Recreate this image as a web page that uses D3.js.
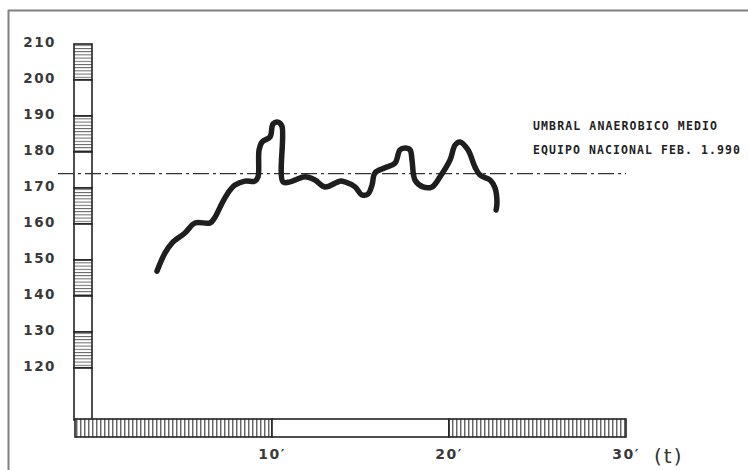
<!DOCTYPE html>
<html>
<head>
<meta charset="utf-8">
<script src="https://cdn.jsdelivr.net/npm/d3@7"></script>
<style>
  html, body { margin: 0; padding: 0; background: #fff; }
  svg { display: block; }
</style>
</head>
<body>
<svg id="chart" width="748" height="470"></svg>
<script>
// ---- data ----
const yTicks = [210, 200, 190, 180, 170, 160, 150, 140, 130, 120];
const xTicks = [10, 20, 30];
const xTickLabels = ["10\u2032", "20\u2032", "30\u2032"];
const threshold = 174;
const legendLines = ["UMBRAL ANAEROBICO MEDIO", "EQUIPO NACIONAL FEB. 1.990"];
const minutes = [3.50, 3.95, 4.35, 5.08, 5.65, 6.50, 6.78, 7.18, 7.51, 7.91, 8.47, 9.04, 9.21, 9.27, 9.44, 9.89, 10.06, 10.34, 10.56, 10.62, 11.02, 11.86, 12.43, 12.99, 13.84, 14.12, 14.69, 15.08, 15.42, 15.65, 15.82, 16.38, 16.95, 17.23, 17.51, 17.80, 17.91, 18.08, 18.53, 19.04, 19.49, 20.06, 20.34, 20.62, 21.07, 21.47, 21.75, 22.32, 22.60, 22.71, 22.66];
const heartRate = [146.9, 151.9, 154.7, 157.5, 160.3, 160.3, 161.9, 165.8, 168.6, 170.8, 171.9, 171.9, 173.1, 180.6, 182.8, 184.2, 187.8, 188.3, 187.2, 171.7, 171.7, 173.1, 172.2, 170.3, 171.9, 171.7, 170.3, 168.1, 168.3, 170.8, 174.2, 175.6, 176.9, 180.6, 181.1, 180.6, 177.8, 172.2, 170.3, 170.3, 173.1, 177.8, 181.9, 182.8, 180.6, 175.8, 173.6, 172.2, 170.0, 165.8, 163.9];

// ---- drawing ----
const svg = d3.select("#chart");
const x = d3.scaleLinear().domain([0, 30]).range([95, 626]);
const y = d3.scaleLinear().domain([120, 210]).range([368, 44]);

const ink = "#222";
const defs = svg.append("defs");
const ph = defs.append("pattern").attr("id", "hHatch").attr("patternUnits", "userSpaceOnUse")
  .attr("width", 8).attr("height", 3.2);
ph.append("rect").attr("width", 8).attr("height", 3.2).attr("fill", "#fff");
ph.append("line").attr("x1", 0).attr("x2", 8).attr("y1", 0.5).attr("y2", 0.5)
  .attr("stroke", "#555").attr("stroke-width", 0.9);
const pv = defs.append("pattern").attr("id", "vHatch").attr("patternUnits", "userSpaceOnUse")
  .attr("width", 4).attr("height", 8);
pv.append("rect").attr("width", 4).attr("height", 8).attr("fill", "#fff");
pv.append("line").attr("x1", 0.8).attr("x2", 0.8).attr("y1", 0).attr("y2", 8)
  .attr("stroke", "#333").attr("stroke-width", 1.1);

// frame
svg.append("line").attr("x1", 8).attr("x2", 748).attr("y1", 10.5).attr("y2", 10.5)
  .attr("stroke", "#808080").attr("stroke-width", 2);
svg.append("line").attr("x1", 8.5).attr("x2", 8.5).attr("y1", 10).attr("y2", 470)
  .attr("stroke", "#808080").attr("stroke-width", 2);

// y-axis bar segments
const barX0 = 74, barX1 = 92, barBottom = 420;
const bounds = yTicks.map(v => y(v)).concat([barBottom]);
for (let i = 0; i < bounds.length - 1; i++) {
  svg.append("rect").attr("x", barX0).attr("y", bounds[i])
    .attr("width", barX1 - barX0).attr("height", bounds[i + 1] - bounds[i])
    .attr("fill", i % 2 === 0 ? "url(#hHatch)" : "#fff")
    .attr("stroke", ink).attr("stroke-width", 1.6);
}

// x-axis bar segments
const xbY0 = 419, xbY1 = 437;
const xb = [75, x(10), x(20), x(30)];
for (let i = 0; i < xb.length - 1; i++) {
  svg.append("rect").attr("x", xb[i]).attr("y", xbY0)
    .attr("width", xb[i + 1] - xb[i]).attr("height", xbY1 - xbY0)
    .attr("fill", i % 2 === 0 ? "url(#vHatch)" : "#fff")
    .attr("stroke", ink).attr("stroke-width", 1.6);
}

// y tick labels
svg.append("g").selectAll("text").data(yTicks).join("text")
  .attr("x", 56).attr("y", d => y(d) - 1)
  .attr("text-anchor", "end").attr("dominant-baseline", "middle")
  .attr("font-family", "'DejaVu Sans', sans-serif").attr("font-size", 13.5)
  .attr("font-weight", "bold").attr("letter-spacing", 1.5).attr("fill", "#3a3a3a")
  .text(d => d);

// x tick labels
svg.append("g").selectAll("text").data(xTicks).join("text")
  .attr("x", d => x(d)).attr("y", 459)
  .attr("text-anchor", "middle")
  .attr("font-family", "'DejaVu Sans', sans-serif").attr("font-size", 14)
  .attr("font-weight", "bold").attr("letter-spacing", 1.5).attr("fill", "#3a3a3a")
  .text((d, i) => xTickLabels[i]);
svg.append("text").attr("x", 654).attr("y", 463)
  .attr("font-family", "'DejaVu Sans', sans-serif").attr("font-size", 20)
  .attr("fill", "#333").attr("letter-spacing", 2).text("(t)");

// threshold line
svg.append("line").attr("x1", 58).attr("x2", x(30)).attr("y1", y(threshold)).attr("y2", y(threshold))
  .attr("stroke", "#333").attr("stroke-width", 1.4).attr("stroke-dasharray", "16,4,3,4");

// legend text
legendLines.forEach((t, i) => {
  svg.append("text").attr("x", 533).attr("y", 130 + i * 23.5)
    .attr("font-family", "'DejaVu Sans Mono', monospace").attr("font-size", 11.5)
    .attr("font-weight", "bold").attr("fill", "#222")
    .attr("textLength", i === 0 ? 184 : 207).attr("lengthAdjust", "spacing")
    .text(t);
});

// heart-rate curve
const pts = minutes.map((m, i) => [m, heartRate[i]]);
const line = d3.line().x(d => x(d[0])).y(d => y(d[1])).curve(d3.curveCatmullRom.alpha(0.5));
svg.append("path").datum(pts).attr("d", line)
  .attr("fill", "none").attr("stroke", "#1e1e1e").attr("stroke-width", 5.5)
  .attr("stroke-linecap", "round").attr("stroke-linejoin", "round");
</script>
</body>
</html>
